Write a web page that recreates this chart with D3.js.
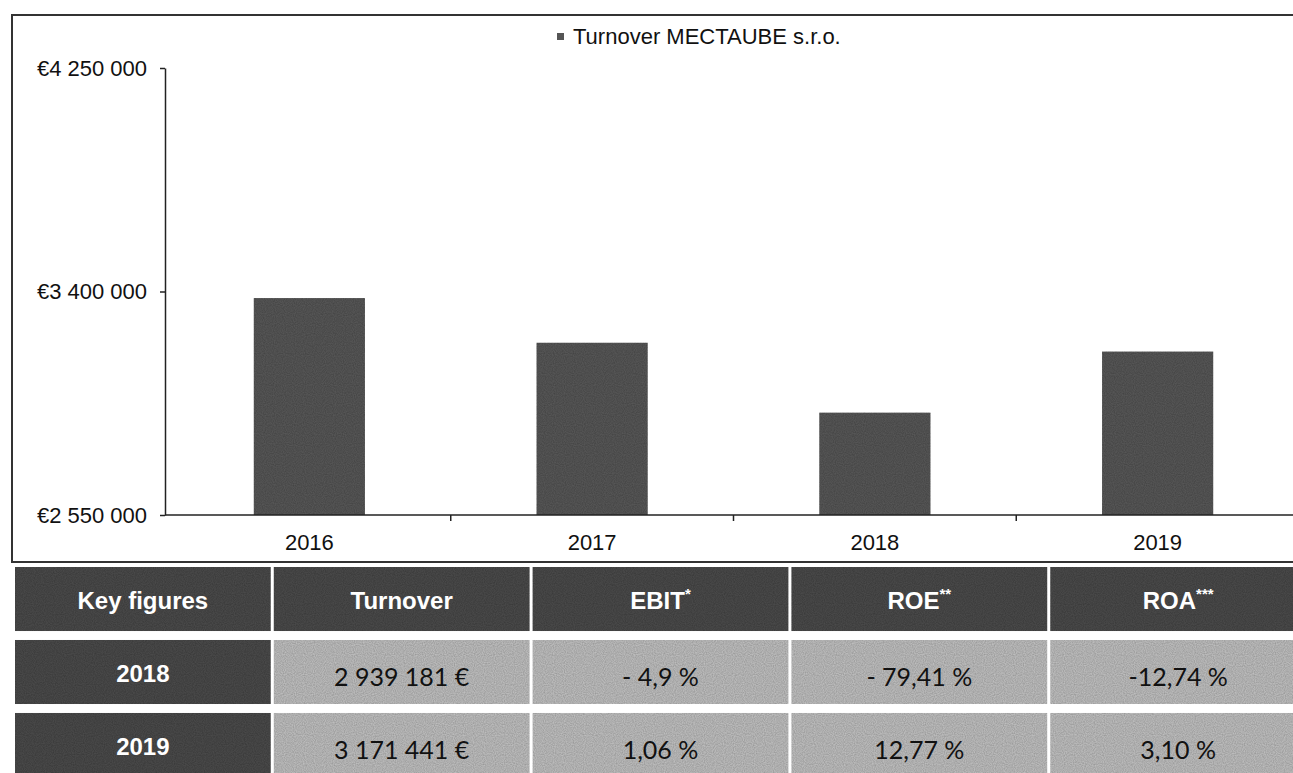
<!DOCTYPE html>
<meta charset="utf-8">
<style>
body { margin: 0; background: #fff; }
text { font-family: "Liberation Sans", Arial, sans-serif; }
.axis text { font-size: 22px; fill: #111; }
.axis path, .axis line { stroke: #222; stroke-width: 1.5px; }
.cell-text { font-family: Lato, "Open Sans", sans-serif; font-size: 25px; fill: #111; }
.head-text { font-weight: bold; font-size: 24px; fill: #fff; }
</style>
<svg width="1293" height="773"></svg>
<script src="https://d3js.org/d3.v7.min.js"></script>
<script>

// chart values
var years = ["2016", "2017", "2018", "2019"];
var turnover = [3375000, 3205000, 2939181, 3171441];
var yTicks = [2550000, 3400000, 4250000];
var legendLabel = "Turnover MECTAUBE s.r.o.";

// key figures table
var tableHeader = ["Key figures", "Turnover", "EBIT*", "ROE**", "ROA***"];
var tableYears = ["2018", "2019"];
var tableTurnover = ["2 939 181 €", "3 171 441 €"];
var tableEbit = ["- 4,9 %", "1,06 %"];
var tableRoe = ["- 79,41 %", "12,77 %"];
var tableRoa = ["-12,74 %", "3,10 %"];

var svg = d3.select("svg");

// scan-like grain
var defs = svg.append("defs");
var grain = defs.append("filter").attr("id", "grain")
    .attr("x", 0).attr("y", 0).attr("width", 1).attr("height", 1);
grain.append("feTurbulence")
    .attr("type", "fractalNoise").attr("baseFrequency", 0.9)
    .attr("numOctaves", 1).attr("seed", 3).attr("result", "noise");
grain.append("feColorMatrix").attr("in", "noise").attr("type", "matrix")
    .attr("values", "0 0 0 0 0  0 0 0 0 0  0 0 0 0 0  0 0 0 0.55 -0.05")
    .attr("result", "dots");
grain.append("feComposite").attr("in", "dots").attr("in2", "SourceGraphic")
    .attr("operator", "in").attr("result", "dots2");
var merge = grain.append("feMerge");
merge.append("feMergeNode").attr("in", "SourceGraphic");
merge.append("feMergeNode").attr("in", "dots2");

// chart frame
svg.append("rect")
    .attr("x", 12).attr("y", 15)
    .attr("width", 1300).attr("height", 547)
    .attr("fill", "none")
    .attr("stroke", "#333")
    .attr("stroke-width", 2);

var x = d3.scaleBand()
    .domain(years)
    .range([168, 1299])
    .paddingInner(0.607)
    .paddingOuter(0.3035);

var y = d3.scaleLinear()
    .domain([yTicks[0], yTicks[yTicks.length - 1]])
    .range([515, 68]);

var fmt = function(d) { return "€" + d3.format(",")(d).replace(/,/g, " "); };

// bars
svg.append("g").selectAll("rect")
    .data(turnover)
    .enter().append("rect")
      .attr("x", function(d, i) { return x(years[i]); })
      .attr("y", function(d) { return y(d); })
      .attr("width", x.bandwidth())
      .attr("height", function(d) { return y.range()[0] - y(d); })
      .attr("fill", "#5a5a5a")
      .attr("filter", "url(#grain)");

// y axis
svg.append("g")
    .attr("class", "axis axis--y")
    .attr("transform", "translate(165,0)")
    .call(d3.axisLeft(y).tickValues(yTicks).tickFormat(fmt).tickSize(5).tickSizeOuter(0).tickPadding(13));

// x axis: line, ticks at category boundaries, labels at centers
var gx = svg.append("g").attr("class", "axis axis--x");
gx.append("line")
    .attr("x1", 165).attr("x2", 1300)
    .attr("y1", y.range()[0]).attr("y2", y.range()[0]);
gx.selectAll(".bound")
    .data(years.slice(1))
    .enter().append("line")
      .attr("class", "bound")
      .attr("x1", function(d) { return x(d) - x.step() * x.paddingInner() / 2; })
      .attr("x2", function(d) { return x(d) - x.step() * x.paddingInner() / 2; })
      .attr("y1", y.range()[0]).attr("y2", y.range()[0] + 6);
gx.selectAll("text")
    .data(years)
    .enter().append("text")
      .attr("x", function(d) { return x(d) + x.bandwidth() / 2; })
      .attr("y", 550)
      .attr("text-anchor", "middle")
      .text(function(d) { return d; });

// legend
svg.append("rect")
    .attr("x", 557).attr("y", 33)
    .attr("width", 7).attr("height", 7)
    .attr("fill", "#555");
svg.append("text")
    .attr("x", 573).attr("y", 44)
    .style("font-size", "22px")
    .attr("fill", "#111")
    .text(legendLabel);

// table
var col = d3.scaleBand()
    .domain(d3.range(tableHeader.length))
    .range([15, 1306])
    .paddingInner(0.012)
    .paddingOuter(0);

var row = d3.scaleBand()
    .domain(d3.range(3))
    .range([567, 777])
    .paddingInner(0.123)
    .paddingOuter(0);

var rows = [tableHeader];
tableYears.forEach(function(yr, i) {
  rows.push([yr, tableTurnover[i], tableEbit[i], tableRoe[i], tableRoa[i]]);
});

var cells = [];
rows.forEach(function(r, ri) {
  r.forEach(function(v, ci) {
    cells.push({r: ri, c: ci, v: v, dark: ri === 0 || ci === 0});
  });
});

var gt = svg.append("g").attr("class", "table");

gt.selectAll("rect")
    .data(cells)
    .enter().append("rect")
      .attr("x", function(d) { return col(d.c); })
      .attr("y", function(d) { return row(d.r); })
      .attr("width", col.bandwidth())
      .attr("height", row.bandwidth())
      .attr("fill", function(d) { return d.dark ? "#4e4e4e" : "#c3c3c3"; })
      .attr("filter", "url(#grain)");

gt.selectAll("text")
    .data(cells)
    .enter().append("text")
      .attr("class", function(d) { return d.dark ? "head-text" : "cell-text"; })
      .attr("x", function(d) { return col(d.c) + col.bandwidth() / 2; })
      .attr("y", function(d) { return row(d.r) + row.bandwidth() / 2 + (d.dark ? 1 : 4); })
      .attr("dominant-baseline", "central")
      .attr("text-anchor", "middle")
      .each(function(d) {
        var m = d.v.match(/^(.*?)(\**)$/);
        var t = d3.select(this);
        t.append("tspan").text(m[1]);
        if (m[2]) {
          t.append("tspan")
              .attr("dy", -7)
              .style("font-size", "15px")
              .text(m[2]);
        }
      });

</script>
